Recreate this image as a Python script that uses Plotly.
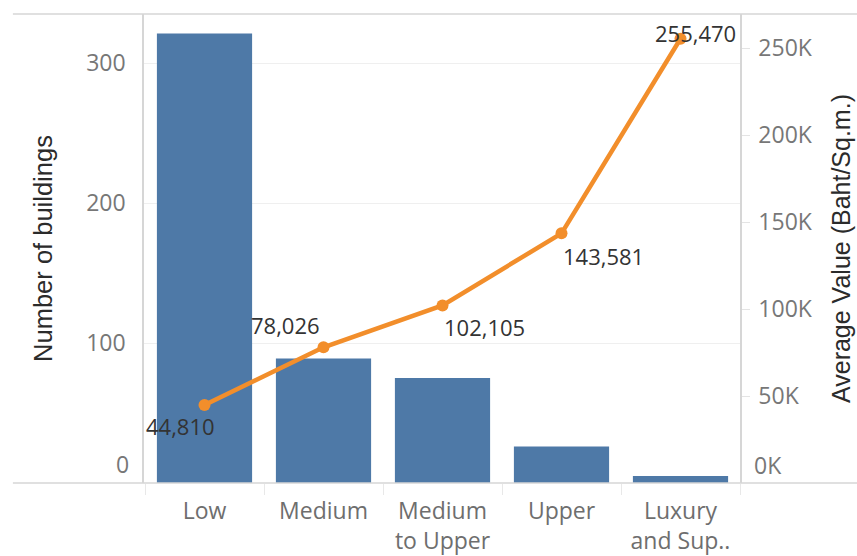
import plotly.graph_objects as go

# Market segments (x categories), building counts (bars) and average value (line)
categories = ["Low", "Medium", "Medium<br>to Upper", "Upper", "Luxury<br>and Sup.."]
buildings = [321, 89, 75, 26, 5]
avg_value = [44810, 78026, 102105, 143581, 255470]
left_ticks = [100, 200, 300]
right_ticks = [50000, 100000, 150000, 200000, 250000]

BLUE = "#4E79A7"
ORANGE = "#F28E2B"
TICK_GRAY = "#777777"
LINE_GRAY = "#d6d6d6"
TXT_FONT = "Open Sans"
TITLE_FONT = "Liberation Sans"

fig = go.Figure()

fig.add_trace(go.Bar(
    x=categories, y=buildings, marker=dict(color=BLUE, line=dict(width=0)),
    yaxis="y", hoverinfo="skip",
))

fig.add_trace(go.Scatter(
    x=categories, y=avg_value, yaxis="y2", mode="lines+markers",
    line=dict(color=ORANGE, width=4.5),
    marker=dict(color=ORANGE, size=12),
    hoverinfo="skip",
))

# value labels next to each line point (pixel nudges keep them clear of the line)
label_shift = [(-24, -21), (-38, 22), (42, -22), (42, -23), (15, 6)]
for cat, val, (dx, dy) in zip(categories, avg_value, label_shift):
    fig.add_annotation(
        x=cat, y=val, xref="x", yref="y2", text=f"{val:,}", showarrow=False,
        xshift=dx, yshift=dy, xanchor="center", yanchor="middle",
        font=dict(family=TXT_FONT, size=22, color="#333333"),
    )

# zero labels sit just above the baseline
fig.add_annotation(x=0, y=0, xref="paper", yref="y", text="0", showarrow=False,
                   xanchor="right", yanchor="bottom", xshift=-13, yshift=1,
                   font=dict(family=TXT_FONT, size=23, color=TICK_GRAY))
fig.add_annotation(x=1, y=0, xref="paper", yref="y2", text="0K", showarrow=False,
                   xanchor="left", yanchor="bottom", xshift=12, yshift=0,
                   font=dict(family=TXT_FONT, size=23, color=TICK_GRAY))

# frame lines running across the full width
for yy in (0, 1):
    fig.add_shape(type="line", xref="paper", yref="paper",
                  x0=-0.22, x1=1.2, y0=yy, y1=yy,
                  line=dict(color=LINE_GRAY, width=1.5))

fig.update_layout(
    width=857, height=556,
    margin=dict(l=144, r=117, t=14, b=73, autoexpand=False),
    paper_bgcolor="white", plot_bgcolor="white",
    showlegend=False, bargap=0.2,
    xaxis=dict(
        automargin=False,
        tickson="boundaries", ticks="outside", ticklen=11, tickcolor="#e8e8e8",
        ticklabelstandoff=12,
        tickfont=dict(family=TXT_FONT, size=23, color="#6e6e6e"),
        showline=False, showgrid=False, zeroline=False, fixedrange=True,
    ),
    yaxis=dict(
        automargin=False,
        range=[0, 335], tickvals=left_ticks, ticktext=[str(v) for v in left_ticks],
        showgrid=True, gridcolor="#efefef", gridwidth=1,
        showline=True, linecolor=LINE_GRAY, linewidth=1.5,
        zeroline=False, ticks="", ticklabelstandoff=12,
        tickfont=dict(family=TXT_FONT, size=23, color=TICK_GRAY),
        title=dict(text="Number of buildings", standoff=26,
                   font=dict(family=TITLE_FONT, size=25.5, color="#2b2b2b")),
    ),
    yaxis2=dict(
        automargin=False,
        range=[0, 269700], overlaying="y", side="right",
        tickvals=right_ticks, ticktext=[f"{v // 1000}K" for v in right_ticks],
        showgrid=False, zeroline=False,
        showline=True, linecolor=LINE_GRAY, linewidth=1.5,
        ticks="outside", ticklen=8, tickcolor="#e4e4e4", ticklabelstandoff=4,
        tickfont=dict(family=TXT_FONT, size=23, color=TICK_GRAY),
        title=dict(text="Average Value (Baht/Sq.m.)", standoff=21,
                   font=dict(family=TITLE_FONT, size=25, color="#2b2b2b")),
    ),
)

fig.write_html("out.html")
